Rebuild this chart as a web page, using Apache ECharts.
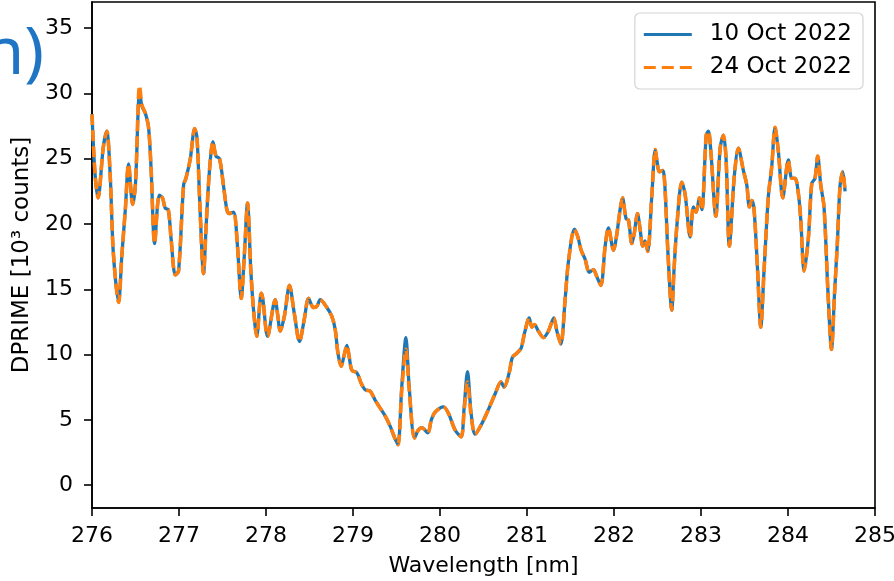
<!DOCTYPE html>
<html><head><meta charset="utf-8">
<script src="https://cdn.jsdelivr.net/npm/echarts@6/dist/echarts.min.js"></script>
<style>html,body{margin:0;padding:0;background:#fff}#chart{width:894px;height:581px}</style>
</head><body><div id="chart"></div>
<script>
const wavelengthNm = [276.00,276.035,276.07,276.13,276.17,276.21,276.245,276.306,276.342,276.383,276.42,276.467,276.50,276.547,276.575,276.612,276.65,276.68,276.72,276.773,276.81,276.842,276.877,276.91,276.957,276.995,277.053,277.08,277.13,277.18,277.207,277.239,277.282,277.313,277.348,277.39,277.425,277.466,277.512,277.55,277.578,277.627,277.67,277.715,277.75,277.788,277.825,277.857,277.894,277.945,277.963,278.018,278.106,278.133,278.164,278.213,278.27,278.324,278.385,278.44,278.489,278.546,278.585,278.623,278.70,278.758,278.796,278.827,278.865,278.893,278.93,278.957,278.987,279.045,279.094,279.14,279.198,279.255,279.313,279.37,279.428,279.474,279.516,279.56,279.608,279.646,279.707,279.749,279.792,279.86,279.90,279.945,280.04,280.097,280.175,280.243,280.278,280.316,280.358,280.404,280.48,280.557,280.634,280.70,280.737,280.795,280.833,280.883,280.933,280.97,281.025,281.056,281.086,281.13,281.19,281.246,281.308,281.343,281.389,281.438,281.476,281.545,281.585,281.622,281.668,281.715,281.764,281.80,281.849,281.898,281.936,281.994,282.032,282.07,282.097,282.139,282.166,282.205,282.231,282.27,282.30,282.331,282.357,282.388,282.434,282.474,282.495,282.52,282.56,282.584,282.62,282.664,282.69,282.722,282.779,282.817,282.875,282.913,282.944,282.982,283.01,283.06,283.085,283.116,283.17,283.22,283.257,283.288,283.326,283.382,283.43,283.487,283.526,283.556,283.584,283.61,283.65,283.687,283.725,283.774,283.813,283.851,283.89,283.94,284.004,284.043,284.081,284.12,284.147,284.185,284.235,284.273,284.31,284.342,284.376,284.414,284.46,284.50,284.535,284.567,284.598,284.629,284.656];
const dprime10Oct = [28.4,23.8,22.0,25.9,27.1,23.6,17.8,14.0,17.5,21.1,24.6,21.5,23.1,30.1,29.0,28.5,27.4,24.1,18.5,22.2,22.0,21.2,21.1,18.8,16.1,16.4,23.0,23.5,25.0,27.3,26.6,21.6,16.2,20.0,23.9,26.3,25.2,25.0,22.9,21.1,20.8,20.9,18.5,14.3,17.5,21.6,16.5,13.4,11.4,14.7,14.3,11.4,14.2,13.1,11.8,13.0,15.3,13.2,11.0,12.7,14.3,13.6,13.7,14.2,13.6,12.9,11.9,10.1,9.1,9.8,10.7,9.8,8.8,8.6,7.8,7.3,7.2,6.5,5.9,5.3,4.5,3.7,3.1,7.5,11.3,7.5,3.6,4.2,4.4,4.0,5.0,5.6,6.0,5.5,4.2,3.7,6.0,8.7,5.5,3.9,4.7,5.8,7.0,7.9,7.5,8.6,9.8,10.1,10.5,11.6,12.8,12.1,12.3,11.8,11.3,11.8,12.8,11.8,10.8,14.2,17.1,19.6,19.0,18.0,17.3,16.3,16.5,16.0,15.3,18.3,19.7,18.0,19.2,21.1,22.0,20.4,20.3,18.5,19.2,20.8,19.6,18.3,18.7,17.9,22.1,25.7,24.8,24.0,24.1,23.0,17.8,13.4,16.5,19.8,23.2,22.3,19.0,21.3,20.9,22.0,21.1,26.8,27.1,25.3,20.6,25.8,26.8,25.0,18.3,23.6,25.8,24.1,23.0,21.3,21.8,21.1,16.5,12.1,16.5,22.1,24.4,27.4,25.5,22.0,24.9,23.5,23.5,22.3,20.3,16.4,19.0,23.1,23.5,25.2,23.0,21.3,14.7,10.4,14.7,18.5,22.9,24.0,22.5];
const dprime24Oct = [28.4,23.8,22.0,25.9,27.1,23.6,17.8,14.0,17.5,21.1,24.6,21.5,23.1,30.6,29.1,28.5,27.4,24.1,18.5,22.2,22.0,21.2,21.1,18.8,16.1,16.4,23.0,23.5,25.0,27.3,26.6,21.6,16.2,20.0,23.9,26.3,25.2,25.0,22.9,21.1,20.8,20.9,18.5,14.3,17.5,21.6,16.5,13.4,11.4,14.7,14.3,11.4,14.2,13.1,11.8,13.0,15.3,13.2,11.0,12.7,14.3,13.6,13.7,14.2,13.6,12.9,11.9,10.1,9.1,9.8,10.7,9.8,8.8,8.6,7.8,7.3,7.2,6.5,5.9,5.3,4.5,3.7,3.1,7.2,10.4,7.3,3.6,4.2,4.4,4.0,5.0,5.6,6.0,5.5,4.2,3.7,5.7,7.9,5.3,3.9,4.7,5.8,7.0,7.9,7.5,8.6,9.8,10.1,10.5,11.6,12.8,12.1,12.3,11.8,11.3,11.8,12.8,11.8,10.8,14.2,17.1,19.6,19.0,18.0,17.3,16.3,16.5,16.0,15.3,18.3,19.7,18.0,19.2,21.1,22.0,20.4,20.3,18.5,19.2,20.8,19.6,18.3,18.7,17.9,22.1,25.7,24.8,24.0,24.1,23.0,17.8,13.4,16.5,19.8,23.2,22.3,19.0,21.3,20.9,22.0,21.1,26.8,27.1,25.3,20.6,25.8,26.8,25.0,18.3,23.6,25.8,24.1,23.0,21.3,21.8,21.1,16.5,12.1,16.5,22.1,24.4,27.4,25.5,22.0,24.9,23.5,23.5,22.3,20.3,16.4,19.0,23.1,23.5,25.2,23.0,21.3,14.7,10.4,14.7,18.5,22.9,24.0,22.5];
const yTicks = [0, 5, 10, 15, 20, 25, 30, 35];
const seriesNames = ['10 Oct 2022', '24 Oct 2022'];
const xAxisTitle = 'Wavelength [nm]';
const yAxisTitle = 'DPRIME [10³ counts]';
const panelLabel = 'n)';

const font = 'DejaVu Sans';
const solidIcon = 'path://M0,0H48V3H0Z';
const dashedIcon = 'path://M0,0H12V3H0Z M18,0H30V3H18Z M36,0H48V3H36Z';
const chart = echarts.init(document.getElementById('chart'), null, {renderer: 'canvas'});
const toPairs = (vals) => wavelengthNm.map((w, i) => [w, vals[i]]);
chart.setOption({
  animation: false,
  backgroundColor: '#fff',
  grid: {left: 92, right: 19, top: 2, bottom: 73, show: true, borderColor: '#000', borderWidth: 1.6, backgroundColor: 'transparent', containLabel: false, outerBoundsMode: 'none'},
  graphic: [{
    type: 'text', z: 100,
    style: {text: panelLabel, x: 44, y: 88, textAlign: 'right', textVerticalAlign: 'bottom', font: '66px "Noto Sans"', fill: '#1f74c4'}
  }],
  legend: {
    orient: 'vertical', right: 31, top: 13,
    itemWidth: 48, itemHeight: 3, itemGap: 10,
    padding: [10, 11, 10, 9],
    backgroundColor: 'rgba(255,255,255,0.85)', borderColor: '#d4d4d4', borderWidth: 1.2, borderRadius: 5,
    textStyle: {fontSize: 23, color: '#000', fontFamily: font, padding: [0, 0, 0, 13], lineHeight: 23},
    data: [
      {name: seriesNames[0], icon: solidIcon, itemStyle: {color: '#1f77b4'}},
      {name: seriesNames[1], icon: dashedIcon, itemStyle: {color: '#ff7f0e'}}
    ]
  },
  xAxis: {
    type: 'value', min: 276, max: 285, interval: 1,
    name: xAxisTitle, nameLocation: 'middle', nameGap: 47,
    nameTextStyle: {fontSize: 22, color: '#000', fontFamily: font},
    axisLine: {show: true, onZero: false, lineStyle: {color: '#000', width: 1.6}},
    axisTick: {show: true, inside: false, length: 8, lineStyle: {color: '#000', width: 1.6}},
    axisLabel: {fontSize: 22, color: '#000', fontFamily: font, margin: 17, showMaxLabel: true, showMinLabel: true, hideOverlap: false},
    splitLine: {show: false}
  },
  yAxis: {
    type: 'value', min: -1.75, max: 37,
    name: yAxisTitle, nameLocation: 'middle', nameGap: 58, nameRotate: 90,
    nameTextStyle: {fontSize: 23, color: '#000', fontFamily: font},
    axisLine: {show: true, onZero: false, lineStyle: {color: '#000', width: 1.6}},
    axisTick: {show: true, inside: false, length: 8, customValues: yTicks, lineStyle: {color: '#000', width: 1.6}},
    axisLabel: {fontSize: 22, color: '#000', fontFamily: font, margin: 19, customValues: yTicks},
    splitLine: {show: false}
  },
  series: [
    {name: seriesNames[0], type: 'line', data: toPairs(dprime10Oct), showSymbol: false, symbol: 'none', smooth: 0.3,
     lineStyle: {color: '#1f77b4', width: 3.3}, itemStyle: {color: '#1f77b4'}, z: 2},
    {name: seriesNames[1], type: 'line', data: toPairs(dprime24Oct), showSymbol: false, symbol: 'none', smooth: 0.3,
     lineStyle: {color: '#ff7f0e', width: 3.6, type: [11, 5]}, itemStyle: {color: '#ff7f0e'}, z: 3}
  ]
});
</script></body></html>
